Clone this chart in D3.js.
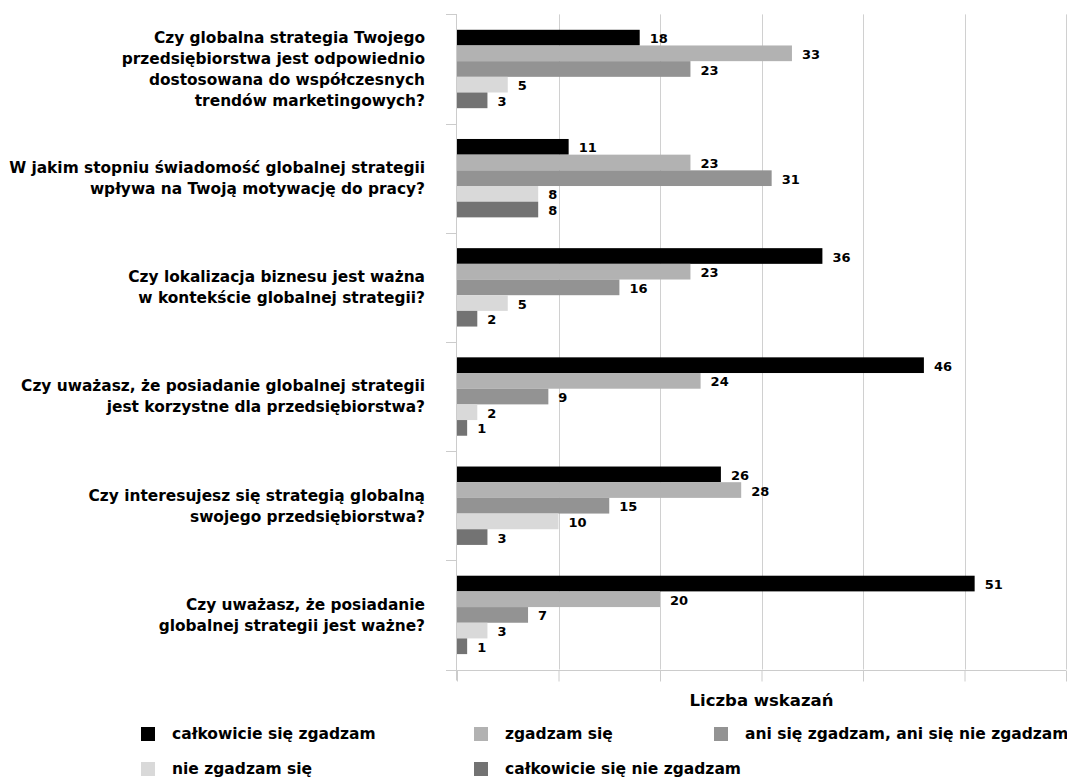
<!DOCTYPE html>
<html>
<head>
<meta charset="utf-8">
<script src="https://cdn.jsdelivr.net/npm/d3@7"></script>
<style>
  html, body { margin: 0; padding: 0; background: #ffffff; }
  svg { display: block; }
  text { font-family: "DejaVu Sans", Verdana, sans-serif; font-weight: bold; fill: #000; }
</style>
</head>
<body>
<svg id="chart" width="1067" height="778"></svg>
<script>
// ---- data ----
const categories = [
  "Czy globalna strategia Twojego|przedsiębiorstwa jest odpowiednio|dostosowana do współczesnych|trendów marketingowych?",
  "W jakim stopniu świadomość globalnej strategii|wpływa na Twoją motywację do pracy?",
  "Czy lokalizacja biznesu jest ważna|w kontekście globalnej strategii?",
  "Czy uważasz, że posiadanie globalnej strategii|jest korzystne dla przedsiębiorstwa?",
  "Czy interesujesz się strategią globalną|swojego przedsiębiorstwa?",
  "Czy uważasz, że posiadanie|globalnej strategii jest ważne?"
];
const seriesNames = [
  "całkowicie się zgadzam",
  "zgadzam się",
  "ani się zgadzam, ani się nie zgadzam",
  "nie zgadzam się",
  "całkowicie się nie zgadzam"
];
const completelyAgree    = [18, 11, 36, 46, 26, 51];
const agree              = [33, 23, 23, 24, 28, 20];
const neither            = [23, 31, 16, 9, 15, 7];
const disagree           = [5, 8, 5, 2, 10, 3];
const completelyDisagree = [3, 8, 2, 1, 3, 1];
const xTicks = [0, 10, 20, 30, 40, 50, 60];
const axisTitle = "Liczba wskazań";

const seriesValues = [completelyAgree, agree, neither, disagree, completelyDisagree];
const colors = ["#000000", "#b2b2b2", "#939393", "#d9d9d9", "#737373"];

// ---- layout ----
const svg = d3.select("#chart");
const plot = { left: 457, right: 1066, top: 14.4, bottom: 669.5 };

const x = d3.scaleLinear().domain([0, 60]).range([plot.left, plot.right]);
const y0 = d3.scaleBand().domain(d3.range(categories.length)).range([plot.top, plot.bottom]).padding(0);
const bw = y0.bandwidth();
const y1 = d3.scaleBand().domain(d3.range(seriesNames.length)).range([bw * 0.141, bw * 0.859]).padding(0);

// gridlines
svg.append("g")
  .selectAll("line")
  .data(xTicks.slice(1))
  .join("line")
  .attr("x1", d => Math.round(x(d)) + 0.5)
  .attr("x2", d => Math.round(x(d)) + 0.5)
  .attr("y1", plot.top)
  .attr("y2", plot.bottom)
  .attr("stroke", "#d0d0d0")
  .attr("stroke-width", 1);

// bottom axis (no labels)
const xAxis = d3.axisBottom(x).tickValues(xTicks).tickSize(11).tickFormat("");
const gx = svg.append("g").attr("transform", `translate(0,${Math.round(plot.bottom) + 0.5})`).call(xAxis);
gx.select(".domain").attr("stroke", "#cccccc").attr("d", `M446,0H${plot.right}`);
gx.selectAll(".tick line").attr("stroke", "#cccccc");

// left axis with boundary ticks
const leftAxisG = svg.append("g");
leftAxisG.append("line")
  .attr("x1", x(0) - 0.5).attr("x2", x(0) - 0.5)
  .attr("y1", plot.top).attr("y2", plot.bottom + 11)
  .attr("stroke", "#cccccc");
const boundaries = d3.range(categories.length + 1).map(i => i < categories.length ? y0(i) : plot.bottom);
leftAxisG.selectAll("line.tk")
  .data(boundaries)
  .join("line")
  .attr("class", "tk")
  .attr("x1", 446).attr("x2", x(0))
  .attr("y1", d => Math.round(d) + 0.5).attr("y2", d => Math.round(d) + 0.5)
  .attr("stroke", "#cccccc");

// bars
const groups = svg.append("g")
  .selectAll("g")
  .data(categories.map((c, i) => i))
  .join("g")
  .attr("transform", i => `translate(0,${y0(i)})`);

groups.selectAll("rect")
  .data(i => seriesValues.map((vals, s) => ({ s, v: vals[i] })))
  .join("rect")
  .attr("x", x(0))
  .attr("y", d => y1(d.s))
  .attr("width", d => x(d.v) - x(0))
  .attr("height", y1.bandwidth())
  .attr("fill", d => colors[d.s]);

groups.selectAll("text.val")
  .data(i => seriesValues.map((vals, s) => ({ s, v: vals[i] })))
  .join("text")
  .attr("class", "val")
  .attr("x", d => x(d.v) + 10)
  .attr("y", d => y1(d.s) + y1.bandwidth() / 2 + 1)
  .attr("dy", "0.35em")
  .attr("font-size", 13)
  .text(d => d.v);

// category labels
const lineH = 21;
svg.append("g")
  .selectAll("text")
  .data(categories.map((c, i) => ({ lines: c.split("|"), i })))
  .join("text")
  .attr("text-anchor", "end")
  .attr("font-size", 15.4)
  .each(function(d) {
    const cy = y0(d.i) + bw / 2;
    const n = d.lines.length;
    d3.select(this).selectAll("tspan")
      .data(d.lines)
      .join("tspan")
      .attr("x", 425)
      .attr("y", (l, k) => cy + (k - (n - 1) / 2) * lineH)
      .attr("dy", "0.35em")
      .text(l => l);
  });

// axis title
svg.append("text")
  .attr("x", (plot.left + plot.right) / 2)
  .attr("y", 700)
  .attr("dy", "0.35em")
  .attr("text-anchor", "middle")
  .attr("font-size", 16.5)
  .text(axisTitle);

// legend
const legendPos = [
  { x: 141, y: 734 }, { x: 474, y: 734 }, { x: 714, y: 734 },
  { x: 141, y: 769 }, { x: 474, y: 769 }
];
const lg = svg.append("g")
  .selectAll("g")
  .data(seriesNames.map((n, i) => ({ n, i })))
  .join("g")
  .attr("transform", d => `translate(${legendPos[d.i].x},${legendPos[d.i].y})`);
lg.append("rect")
  .attr("x", 0).attr("y", -7).attr("width", 14).attr("height", 14)
  .attr("fill", d => colors[d.i]);
lg.append("text")
  .attr("x", 31).attr("y", 0).attr("dy", "0.35em")
  .attr("font-size", 15.5)
  .text(d => d.n);
</script>
</body>
</html>
